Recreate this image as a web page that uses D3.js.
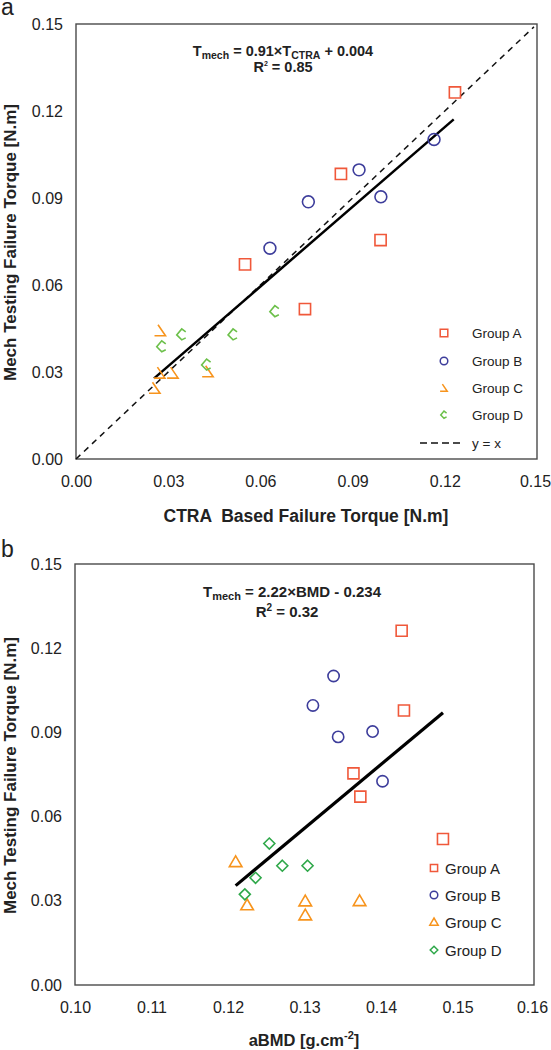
<!DOCTYPE html>
<html>
<head>
<meta charset="utf-8">
<script src="https://cdn.jsdelivr.net/npm/d3@7"></script>
<style>
  html, body { margin: 0; padding: 0; background: #fff; }
  svg { display: block; font-family: "Liberation Sans", Arial, sans-serif; }
</style>
</head>
<body>
<script>
// ---------------- DATA ----------------
// Panel a: CTRA based failure torque (x) vs mech testing failure torque (y)
const ctraGroupA = [[0.1233, 0.1264], [0.0862, 0.0983], [0.0991, 0.0755], [0.0550, 0.0671], [0.0745, 0.0517]];
const ctraGroupB = [[0.1165, 0.1102], [0.0921, 0.0997], [0.0756, 0.0887], [0.0992, 0.0904], [0.0631, 0.0727]];
const ctraGroupC = [[0.0275, 0.0442], [0.0273, 0.0296], [0.0257, 0.0244], [0.0316, 0.0296], [0.0430, 0.0301]];
const ctraGroupD = [[0.0344, 0.0428], [0.0279, 0.0387], [0.0511, 0.0428], [0.0425, 0.0324], [0.0647, 0.0508]];
const ctraFitLine = [[0.0254, 0.0278], [0.1229, 0.1171]];
const identityLine = [[0, 0], [0.149, 0.149]];

// Panel b: aBMD (x) vs mech testing failure torque (y)
const bmdGroupA = [[0.1427, 0.1262], [0.1430, 0.0978], [0.1364, 0.0754], [0.1373, 0.0671], [0.1481, 0.0520]];
const bmdGroupB = [[0.1338, 0.1101], [0.1311, 0.0996], [0.1344, 0.0884], [0.1389, 0.0903], [0.1402, 0.0726]];
const bmdGroupC = [[0.1210, 0.0439], [0.1225, 0.0285], [0.1301, 0.0299], [0.1301, 0.0249], [0.1372, 0.0300]];
const bmdGroupD = [[0.1254, 0.0504], [0.1236, 0.0382], [0.1222, 0.0323], [0.1271, 0.0425], [0.1304, 0.0425]];
const bmdFitLine = [[0.1210, 0.0354], [0.1481, 0.0970]];

const yTicks = [0.00, 0.03, 0.06, 0.09, 0.12, 0.15];
const xTicksA = [0.00, 0.03, 0.06, 0.09, 0.12, 0.15];
const xTicksB = [0.10, 0.11, 0.12, 0.13, 0.14, 0.15, 0.16];
const groupNames = ["Group A", "Group B", "Group C", "Group D"];

// ---------------- STYLE ----------------
const colA = "#f0583a", colB = "#3d3d9b", colC = "#f7941d", colDa = "#6cc04a", colDb = "#2fa84a";

const svg = d3.select("body").append("svg").attr("width", 551).attr("height", 1050);

const pathSquare = s => `M${-s},${-s}H${s}V${s}H${-s}Z`;
const pathTri = s => `M0,${-s}L${s * 1.05},${s * 0.8}H${-s * 1.05}Z`;
const pathDiamond = s => `M0,${-s}L${s},0L0,${s}L${-s},0Z`;
const pathCa = k => `M${-2.5*k},${-6*k}L${5*k},${5*k}H${-6*k}`;      // open-angle marker (panel a, group C)
const pathDa = k => `M${4*k},${-3*k}L${0},${-6*k}L${-5*k},0L0,${5*k}L${4*k},${3*k}`; // open-diamond marker (panel a, group D)

function frameAndAxes(g, x, y, xTicks, xfmt) {
  const ax = g.append("g").attr("transform", `translate(0,${y.range()[0]})`)
    .call(d3.axisBottom(x).tickValues(xTicks).tickFormat(xfmt).tickSize(0).tickPadding(17));
  ax.select(".domain").remove();
  ax.selectAll("text").attr("font-size", 16).attr("fill", "#222").attr("font-family", "Liberation Sans, Arial, sans-serif");
  ax.selectAll(".tick:last-of-type text").attr("dx", -2);
  const ay = g.append("g").attr("transform", `translate(${x.range()[0]},0)`)
    .call(d3.axisLeft(y).tickValues(yTicks).tickFormat(d3.format(".2f")).tickSize(0).tickPadding(13));
  ay.select(".domain").remove();
  ay.selectAll("text").attr("font-size", 16).attr("fill", "#222").attr("font-family", "Liberation Sans, Arial, sans-serif");
  g.append("rect")
    .attr("x", x.range()[0]).attr("y", y.range()[1])
    .attr("width", x.range()[1] - x.range()[0]).attr("height", y.range()[0] - y.range()[1])
    .attr("fill", "none").attr("stroke", "#4a4a4a").attr("stroke-width", 1.4);
}

// ================= PANEL a =================
{
  const g = svg.append("g");
  const x = d3.scaleLinear([0, 0.15], [76, 537]);
  const y = d3.scaleLinear([0, 0.15], [459, 24]);
  frameAndAxes(g, x, y, xTicksA, d3.format(".2f"));

  g.append("text").attr("x", 1).attr("y", 15).attr("font-size", 23).attr("fill", "#222").text("a");

  // axis titles
  g.append("text").attr("x", 306).attr("y", 522).attr("text-anchor", "middle")
    .attr("font-size", 17.5).attr("font-weight", "bold").attr("fill", "#222")
    .style("white-space", "pre").text("CTRA  Based Failure Torque [N.m]");
  g.append("text").attr("transform", `translate(16,${(24 + 459) / 2 + 1}) rotate(-90)`)
    .attr("text-anchor", "middle").attr("font-size", 17).attr("font-weight", "bold").attr("fill", "#222")
    .text("Mech Testing Failure Torque [N.m]");

  const line = d3.line().x(d => x(d[0])).y(d => y(d[1]));
  g.append("path").attr("d", line(identityLine)).attr("fill", "none")
    .attr("stroke", "#111").attr("stroke-width", 1.5).attr("stroke-dasharray", "6,5");
  g.append("path").attr("d", line(ctraFitLine)).attr("fill", "none")
    .attr("stroke", "#000").attr("stroke-width", 2.5);

  const mk = (data, d, col, sw) => g.append("g").selectAll("path").data(data).join("path")
    .attr("transform", p => `translate(${x(p[0])},${y(p[1])})`)
    .attr("d", d).attr("fill", "none").attr("stroke", col).attr("stroke-width", sw);
  mk(ctraGroupA, pathSquare(5.6), colA, 1.6);
  mk(ctraGroupB, d3.symbol(d3.symbolCircle, 110)(), colB, 1.6);
  mk(ctraGroupC, pathCa(1), colC, 1.6);
  mk(ctraGroupD, pathDa(1), colDa, 1.6);

  // equation
  const eq = g.append("text").attr("x", 283).attr("y", 56).attr("text-anchor", "middle")
    .attr("font-weight", "bold").attr("font-size", 14.5).attr("fill", "#222");
  eq.append("tspan").text("T");
  eq.append("tspan").attr("font-size", 10.5).attr("dy", 3).text("mech");
  eq.append("tspan").attr("dy", -3).text(" = 0.91×T");
  eq.append("tspan").attr("font-size", 10.5).attr("dy", 3).text("CTRA");
  eq.append("tspan").attr("dy", -3).text(" + 0.004");
  const r2 = g.append("text").attr("x", 283).attr("y", 72).attr("text-anchor", "middle")
    .attr("font-weight", "bold").attr("font-size", 14.5).attr("fill", "#222");
  r2.append("tspan").text("R");
  r2.append("tspan").attr("font-size", 7).attr("dy", -6).text("2");
  r2.append("tspan").attr("dy", 6).text(" = 0.85");

  // legend
  const lg = g.append("g");
  const ly = [333, 361, 388, 415];
  const lmk = [pathSquare(3.8), d3.symbol(d3.symbolCircle, 45)(), pathCa(0.65), pathDa(0.65)];
  const lcol = [colA, colB, colC, colDa];
  groupNames.forEach((n, i) => {
    lg.append("path").attr("transform", `translate(444,${ly[i]})`).attr("d", lmk[i])
      .attr("fill", "none").attr("stroke", lcol[i]).attr("stroke-width", 1.5);
    lg.append("text").attr("x", 472).attr("y", ly[i] + 5).attr("font-size", 13.5).attr("fill", "#222").text(n);
  });
  lg.append("line").attr("x1", 420).attr("x2", 464).attr("y1", 443).attr("y2", 443)
    .attr("stroke", "#111").attr("stroke-width", 1.6).attr("stroke-dasharray", "7,4");
  lg.append("text").attr("x", 472).attr("y", 448).attr("font-size", 13.5).attr("fill", "#222").text("y = x");
}

// ================= PANEL b =================
{
  const g = svg.append("g");
  const x = d3.scaleLinear([0.10, 0.16], [75, 534]);
  const y = d3.scaleLinear([0, 0.15], [985, 564]);
  frameAndAxes(g, x, y, xTicksB, d3.format(".2f"));

  g.append("text").attr("x", 1).attr("y", 557).attr("font-size", 23).attr("fill", "#222").text("b");

  const xl = g.append("text").attr("x", 304).attr("y", 1046).attr("text-anchor", "middle")
    .attr("font-size", 16.5).attr("font-weight", "bold").attr("fill", "#222");
  xl.append("tspan").text("aBMD [g.cm");
  xl.append("tspan").attr("font-size", 11).attr("dy", -7).text("-2");
  xl.append("tspan").attr("dy", 7).text("]");
  g.append("text").attr("transform", `translate(16,${(564 + 985) / 2 + 1}) rotate(-90)`)
    .attr("text-anchor", "middle").attr("font-size", 17).attr("font-weight", "bold").attr("fill", "#222")
    .text("Mech Testing Failure Torque [N.m]");

  const line = d3.line().x(d => x(d[0])).y(d => y(d[1]));
  g.append("path").attr("d", line(bmdFitLine)).attr("fill", "none")
    .attr("stroke", "#000").attr("stroke-width", 3.2);

  const mk = (data, d, col, sw) => g.append("g").selectAll("path").data(data).join("path")
    .attr("transform", p => `translate(${x(p[0])},${y(p[1])})`)
    .attr("d", d).attr("fill", "none").attr("stroke", col).attr("stroke-width", sw);
  mk(bmdGroupA, pathSquare(5.5), colA, 1.6);
  mk(bmdGroupB, d3.symbol(d3.symbolCircle, 100)(), colB, 1.6);
  mk(bmdGroupC, pathTri(6), colC, 1.6);
  mk(bmdGroupD, pathDiamond(5.5), colDb, 1.6);

  const eq = g.append("text").attr("x", 292).attr("y", 597).attr("text-anchor", "middle")
    .attr("font-weight", "bold").attr("font-size", 15).attr("fill", "#222");
  eq.append("tspan").text("T");
  eq.append("tspan").attr("font-size", 11).attr("dy", 3).text("mech");
  eq.append("tspan").attr("dy", -3).text(" = 2.22×BMD - 0.234");
  const r2 = g.append("text").attr("x", 287).attr("y", 617).attr("text-anchor", "middle")
    .attr("font-weight", "bold").attr("font-size", 15).attr("fill", "#222");
  r2.append("tspan").text("R");
  r2.append("tspan").attr("font-size", 10).attr("dy", -6).text("2");
  r2.append("tspan").attr("dy", 6).text(" = 0.32");

  const lg = g.append("g");
  const ly = [868, 895, 922, 950];
  const lmk = [pathSquare(3.6), d3.symbol(d3.symbolCircle, 45)(), pathTri(4), pathDiamond(3.8)];
  const lcol = [colA, colB, colC, colDb];
  groupNames.forEach((n, i) => {
    lg.append("path").attr("transform", `translate(434,${ly[i]})`).attr("d", lmk[i])
      .attr("fill", "none").attr("stroke", lcol[i]).attr("stroke-width", 1.5);
    lg.append("text").attr("x", 445).attr("y", ly[i] + 5.5).attr("font-size", 15).attr("fill", "#222").text(n);
  });
}
</script>
</body>
</html>
